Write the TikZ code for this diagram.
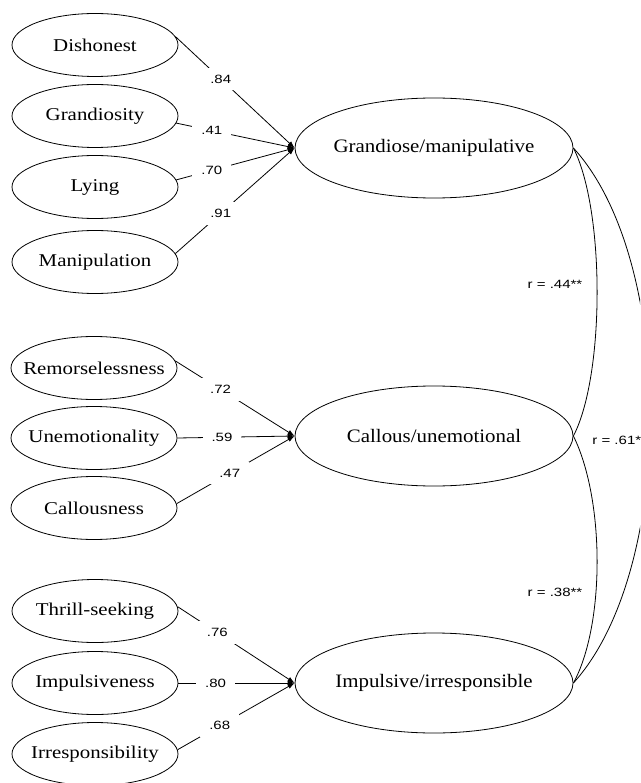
\documentclass[tikz,border=0pt]{standalone}
\usepackage{fontspec}
\setmainfont{Liberation Serif}[FakeStretch=1.16]
\newfontfamily\latfont{Liberation Serif}[FakeStretch=1.1]
\setsansfont{Liberation Sans}[FakeStretch=1.25]
\usetikzlibrary{shapes.geometric}
\usetikzlibrary{arrows.meta}
\newcommand\ctext[1]{\makebox[0pt]{#1}}

\begin{document}
\begin{tikzpicture}[x=1pt,y=-1pt,line width=0.8pt,
  ind/.style={draw,ellipse,minimum width=166pt,minimum height=63pt,inner sep=0pt,font=\fontsize{18}{20}\selectfont},
  lat/.style={draw,ellipse,minimum width=278pt,minimum height=100pt,inner sep=0pt,font=\latfont\fontsize{19}{21}\selectfont},
  ld/.style={fill=white,inner xsep=9pt,inner ysep=7pt,font=\sffamily\fontsize{12}{14}\selectfont},
  rl/.style={inner sep=0pt,font=\sffamily\fontsize{12}{14}\selectfont},
  load/.style={-{Latex[length=7pt,width=5pt]}}]
  \path[use as bounding box,clip] (0,0) rectangle (640,783);

  \node[ind] (dis) at (95,45) {\ctext{Dishonest}};
  \node[ind] (gra) at (95,116) {\ctext{Grandiosity}};
  \node[ind] (lyi) at (95,187) {\ctext{Lying}};
  \node[ind] (man) at (95,262) {\ctext{Manipulation}};

  \node[ind] (rem) at (94,368) {\ctext{Remorselessness}};
  \node[ind] (une) at (94,438) {\ctext{Unemotionality}};
  \node[ind] (cal) at (94,508) {\ctext{Callousness}};

  \node[ind] (thr) at (95,611) {\ctext{Thrill-seeking}};
  \node[ind] (imp) at (95,683) {\ctext{Impulsiveness}};
  \node[ind] (irr) at (95,754) {\ctext{Irresponsibility}};

  \node[lat] (gm) at (434,148) {\ctext{Grandiose/manipulative}};
  \node[lat] (cu) at (434,436) {\ctext{Callous/unemotional}};
  \node[lat] (ir) at (434,683) {\ctext{Impulsive/irresponsible}};

  \draw[load] (dis.6) -- node[ld,pos=0.38]{.84} (gm.west);
  \draw[load] (gra.-5) -- node[ld,pos=0.3]{.41} (gm.west);
  \draw[load] (lyi.5) -- node[ld,pos=0.3]{.70} (gm.west);
  \draw[load] (man.6) -- node[ld,pos=0.38]{.91} (gm.west);

  \draw[load] (rem.5) -- node[ld,pos=0.38]{.72} (cu.west);
  \draw[load] (une.east) -- node[ld,pos=0.38]{.59} (cu.west);
  \draw[load] (cal.3) -- node[ld,pos=0.45]{.47} (cu.west);

  \draw[load] (thr.3) -- node[ld,pos=0.34]{.76} (ir.west);
  \draw[load] (imp.east) -- node[ld,pos=0.32]{.80} (ir.west);
  \draw[load] (irr.3) -- node[ld,pos=0.36]{.68} (ir.west);

  \draw (gm.east) .. controls (605,210) and (605,375) .. (cu.east);
  \draw (cu.east) .. controls (605,500) and (605,625) .. (ir.east);
  \draw (gm.east) .. controls (676,260) and (676,570) .. (ir.east);

  \node[rl] (r1) at (555,284) {r = .44**};
  \node[rl] (r2) at (555,592) {r = .38**};
  \node[rl,anchor=west] (r3) at (592,440) {r = .61**};
\end{tikzpicture}
\end{document}
